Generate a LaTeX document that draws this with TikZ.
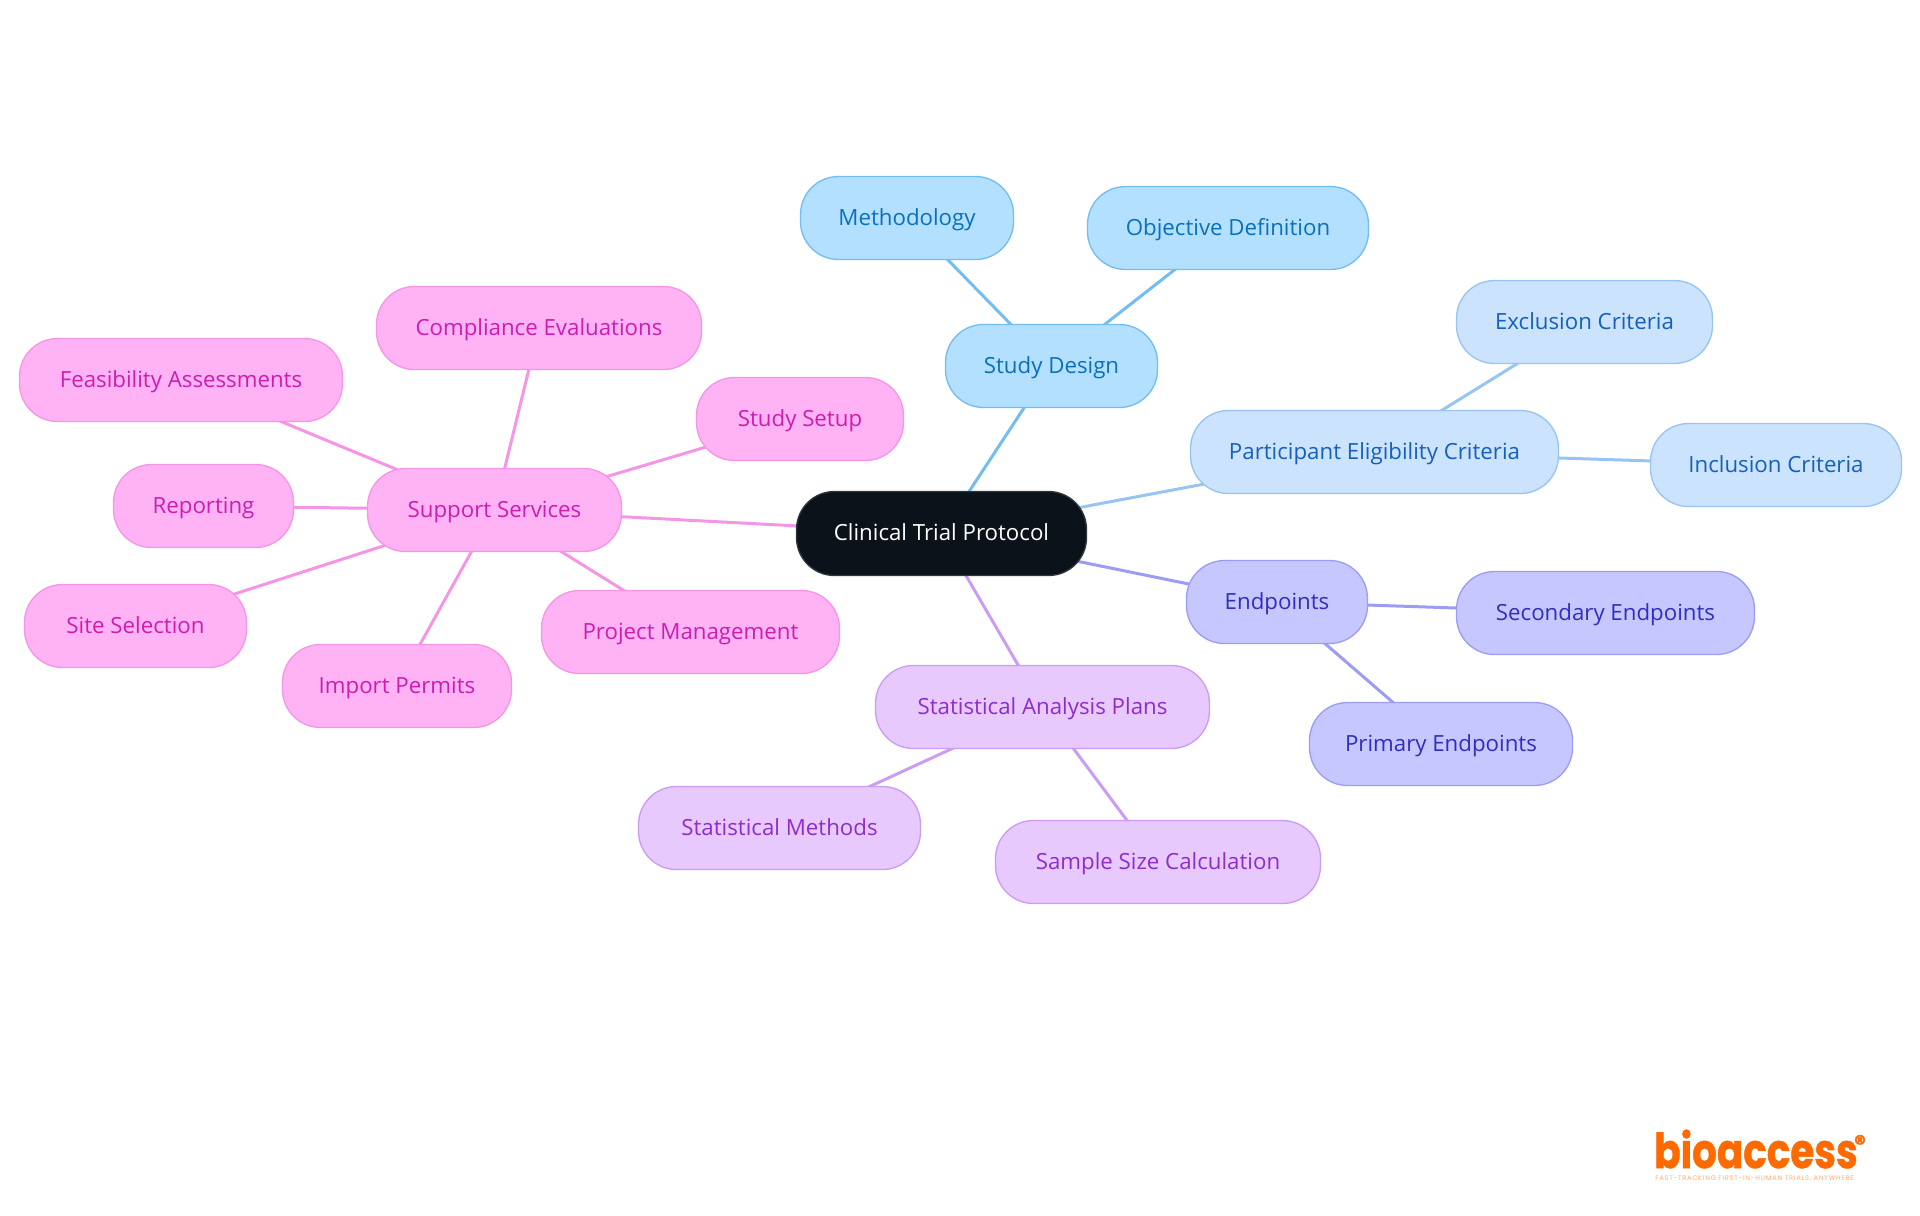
\documentclass[tikz,border=0pt]{standalone}
\usepackage{fontspec}
\setmainfont{Open Sans}
\newfontfamily\logofont[BoldFeatures={FakeBold=1.2}]{Poppins}
\newfontfamily\tagfont[LetterSpace=11]{Poppins}
\usetikzlibrary{backgrounds}
\definecolor{rootfill}{HTML}{0C1219}
\definecolor{sdfill}{HTML}{B3E0FF}\definecolor{sdline}{HTML}{74BDF0}\definecolor{sdtext}{HTML}{0B70BA}
\definecolor{pefill}{HTML}{CCE3FD}\definecolor{peline}{HTML}{98C4F3}\definecolor{petext}{HTML}{1560BD}
\definecolor{epfill}{HTML}{C7C7FF}\definecolor{epline}{HTML}{9C9CF5}\definecolor{eptext}{HTML}{2E2EBF}
\definecolor{stfill}{HTML}{E7C9FE}\definecolor{stline}{HTML}{CB9CF3}\definecolor{sttext}{HTML}{8E2DCB}
\definecolor{spfill}{HTML}{FFB3F5}\definecolor{spline}{HTML}{F595E6}\definecolor{sptext}{HTML}{CC1DB0}
\definecolor{logoorange}{HTML}{FF6A00}
\tikzset{
  pill/.style={rounded corners=28.5pt,line width=1pt,inner sep=0pt,align=center,
    font=\fontsize{16.7}{18}\selectfont,text height=13.6pt,text depth=2.6pt},
  rootnode/.style={pill,fill=rootfill,draw=rootfill!85!white,text=white},
  sdnode/.style={pill,fill=sdfill,draw=sdline,text=sdtext},
  penode/.style={pill,fill=pefill,draw=peline,text=petext},
  epnode/.style={pill,fill=epfill,draw=epline,text=eptext},
  stnode/.style={pill,fill=stfill,draw=stline,text=sttext},
  spnode/.style={pill,fill=spfill,draw=spline,text=sptext},
  conn/.style={line width=2.25pt}
}
% name, x0, x1, y0, y1, style, text
\newcommand{\pillnode}[7]{%
  \pgfmathsetmacro{\pw}{(#3-#2-1)*0.75}\pgfmathsetmacro{\ph}{(#5-#4-1)*0.75}%
  \node[#6,minimum width=\pw pt,minimum height=\ph pt] (#1) at ({(#2+#3)/2},{(#4+#5)/2}) {#7};}
\begin{document}
\begin{tikzpicture}[x=0.75pt,y=-0.75pt]
\useasboundingbox (0,0) rectangle (1920,1215);
\pillnode{root}{796}{1087}{491}{576}{rootnode}{Clinical Trial Protocol}
\pillnode{sd}{945}{1158}{324}{408}{sdnode}{Study Design}
\pillnode{meth}{800}{1014}{176}{260}{sdnode}{Methodology}
\pillnode{obj}{1087}{1369}{186}{270}{sdnode}{Objective Definition}
\pillnode{pe}{1190}{1559}{410}{494}{penode}{Participant Eligibility Criteria}
\pillnode{exc}{1456}{1713}{280}{364}{penode}{Exclusion Criteria}
\pillnode{inc}{1650}{1902}{423}{507}{penode}{Inclusion Criteria}
\pillnode{ep}{1186}{1368}{560}{644}{epnode}{Endpoints}
\pillnode{sec}{1456}{1755}{571}{655}{epnode}{Secondary Endpoints}
\pillnode{pri}{1309}{1573}{702}{786}{epnode}{Primary Endpoints}
\pillnode{sap}{875}{1210}{665}{749}{stnode}{Statistical Analysis Plans}
\pillnode{sm}{638}{921}{786}{870}{stnode}{Statistical Methods}
\pillnode{ssc}{995}{1321}{820}{904}{stnode}{Sample Size Calculation}
\pillnode{sup}{367}{622}{468}{552}{spnode}{Support Services}
\pillnode{comp}{376}{702}{286}{370}{spnode}{Compliance Evaluations}
\pillnode{feas}{19}{343}{338}{422}{spnode}{Feasibility Assessments}
\pillnode{setup}{696}{904}{377}{461}{spnode}{Study Setup}
\pillnode{rep}{113}{294}{464}{548}{spnode}{Reporting}
\pillnode{site}{24}{247}{584}{668}{spnode}{Site Selection}
\pillnode{imp}{282}{512}{644}{728}{spnode}{Import Permits}
\pillnode{pm}{541}{840}{590}{674}{spnode}{Project Management}
\begin{pgfonlayer}{background}
\draw[conn,sdline] (root.center)--(sd.center) (sd.center)--(meth.center) (sd.center)--(obj.center);
\draw[conn,peline] (root.center)--(pe.center) (pe.center)--(exc.center) (pe.center)--(inc.center);
\draw[conn,epline] (root.center)--(ep.center) (ep.center)--(sec.center) (ep.center)--(pri.center);
\draw[conn,stline] (root.center)--(sap.center) (sap.center)--(sm.center) (sap.center)--(ssc.center);
\draw[conn,spline] (root.center)--(sup.center) (sup.center)--(comp.center) (sup.center)--(feas.center)
  (sup.center)--(setup.center) (sup.center)--(rep.center) (sup.center)--(site.center)
  (sup.center)--(imp.center) (sup.center)--(pm.center);
\end{pgfonlayer}
\node[inner sep=0pt,anchor=base west,text=logoorange,font=\logofont\bfseries\fontsize{36}{36}\selectfont] (logo) at (1654,1168) {\scalebox{0.81}[1]{bioaccess}};
\node[inner sep=0pt,text=logoorange,font=\logofont\bfseries\fontsize{17}{17}\selectfont] (logor) at (1860,1143) {®};
\node[inner sep=0pt,anchor=base west,text=logoorange!55!white,font=\tagfont\fontsize{5}{6}\selectfont] (logotag) at (1655,1180) {FAST-TRACKING FIRST-IN-HUMAN TRIALS, ANYWHERE};
\end{tikzpicture}
\end{document}
